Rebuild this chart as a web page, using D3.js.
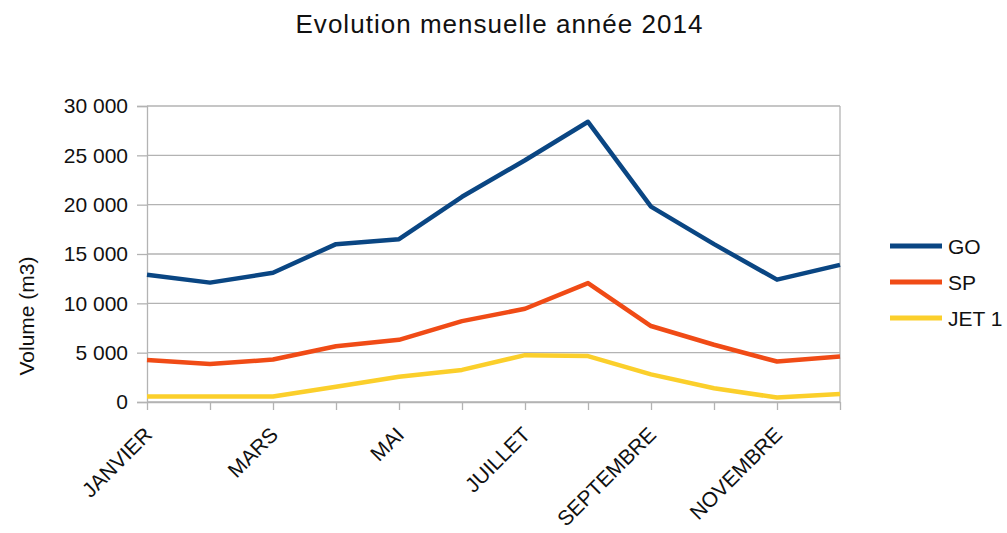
<!DOCTYPE html>
<html>
<head>
<meta charset="utf-8">
<script src="https://cdn.jsdelivr.net/npm/d3@7"></script>
<style>
	body { margin: 0; background: #fff; }
	text { font-family: "Liberation Sans", Arial, sans-serif; fill: #111; }
	.axis path, .axis line { stroke: #b3b3b3; }
</style>
</head>
<body>
<div id="root"></div>
<script>
const months = ['JANVIER', 'FEVRIER', 'MARS', 'AVRIL', 'MAI', 'JUIN',
	'JUILLET', 'AOUT', 'SEPTEMBRE', 'OCTOBRE', 'NOVEMBRE', 'DECEMBRE']
const seriesNames = ['GO', 'SP', 'JET 1']
const goValues = [12900, 12100, 13100, 16000, 16500, 20800, 24500, 28400, 19800, 16000, 12400, 13900]
const spValues = [4250, 3850, 4300, 5650, 6300, 8200, 9450, 12050, 7700, 5800, 4100, 4600]
const jetValues = [550, 550, 550, 1550, 2550, 3250, 4750, 4650, 2800, 1400, 450, 800]
const yTicks = [0, 5000, 10000, 15000, 20000, 25000, 30000]
const colors = ['#0a4683', '#f04b16', '#fbcf2b']

const series = [goValues, spValues, jetValues].map((values, i) => ({
	name: seriesNames[i],
	color: colors[i],
	values
}))

const svg = d3.select('#root').append('svg')
	.attr('width', 1007)
	.attr('height', 533)

const x = d3.scalePoint()
	.domain(months)
	.range([147, 840])

const y = d3.scaleLinear()
	.domain([0, 30000])
	.range([402, 106])

// title
svg.append('text')
	.attr('x', 499)
	.attr('y', 33)
	.attr('text-anchor', 'middle')
	.attr('font-size', '26px')
	.attr('textLength', 407)
	.attr('lengthAdjust', 'spacing')
	.text('Evolution mensuelle année 2014')

// grid
svg.append('g')
	.selectAll('line')
	.data(yTicks)
	.enter()
	.append('line')
	.attr('x1', 147)
	.attr('x2', 840)
	.attr('y1', d => y(d))
	.attr('y2', d => y(d))
	.attr('stroke', '#b3b3b3')
	.attr('stroke-width', 1.3)

svg.append('line')
	.attr('x1', 840).attr('x2', 840)
	.attr('y1', y(30000)).attr('y2', y(0))
	.attr('stroke', '#b3b3b3')
	.attr('stroke-width', 1.3)

// y axis
const axisY = d3.axisLeft(y)
	.tickValues(yTicks)
	.tickSize(10)
	.tickPadding(9)
	.tickFormat(d => d3.format(',')(d).replace(',', ' '))

svg.append('g')
	.attr('class', 'axis')
	.attr('transform', 'translate(147,0)')
	.call(axisY)
	.call(g => g.selectAll('line, path').attr('stroke-width', 1.3))
	.call(g => g.selectAll('text')
		.attr('font-size', '21px')
		.attr('font-family', '"Liberation Sans", Arial, sans-serif')
		.attr('fill', '#111'))

// x axis
const axisX = d3.axisBottom(x)
	.tickSize(8)
	.tickSizeOuter(0)
	.tickFormat((d, i) => i % 2 === 0 ? d : '')

svg.append('g')
	.attr('class', 'axis')
	.attr('transform', 'translate(0,402)')
	.call(axisX)
	.call(g => g.selectAll('line, path').attr('stroke-width', 1.3))
	.call(g => g.selectAll('text')
		.attr('font-size', '21px')
		.attr('font-family', '"Liberation Sans", Arial, sans-serif')
		.attr('fill', '#111')
		.attr('text-anchor', 'end')
		.attr('dy', 0)
		.attr('y', 0)
		.attr('transform', 'translate(6,34) rotate(-45)'))

// axis title
svg.append('text')
	.attr('transform', 'translate(34,316) rotate(-90)')
	.attr('text-anchor', 'middle')
	.attr('font-size', '21px')
	.text('Volume (m3)')

// lines
const line = d3.line()
	.x((d, i) => x(months[i]))
	.y(d => y(d))

svg.append('g')
	.selectAll('path')
	.data(series.slice().reverse())
	.enter()
	.append('path')
	.attr('d', d => line(d.values))
	.attr('fill', 'none')
	.attr('stroke', d => d.color)
	.attr('stroke-width', 4.5)
	.attr('stroke-linejoin', 'round')

// legend
const legend = svg.append('g')
	.selectAll('g')
	.data(series)
	.enter()
	.append('g')
	.attr('transform', (d, i) => `translate(890,${246 + i * 36})`)

legend.append('line')
	.attr('x1', 0)
	.attr('x2', 52)
	.attr('stroke', d => d.color)
	.attr('stroke-width', 5)

legend.append('text')
	.attr('x', 58)
	.attr('y', 8)
	.attr('font-size', '21px')
	.text(d => d.name)
</script>
</body>
</html>
